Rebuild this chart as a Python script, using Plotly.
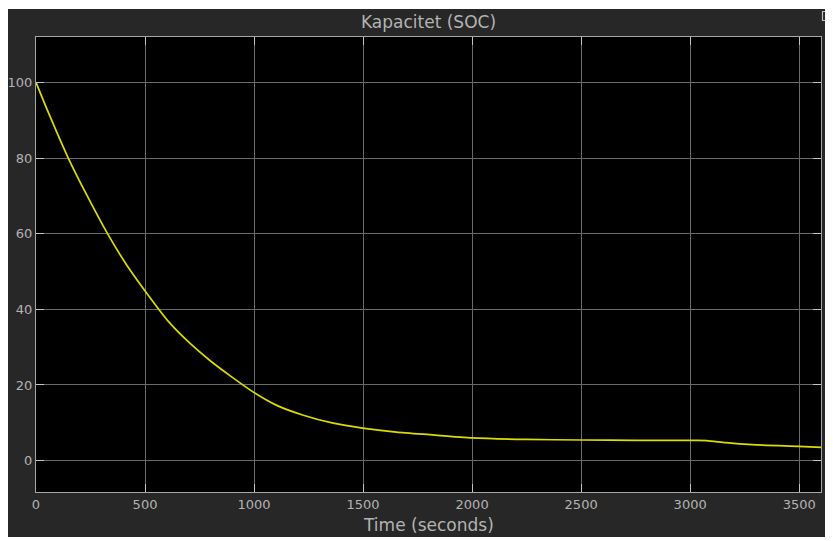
import plotly.graph_objects as go

# Data
time_s = [0, 57, 148, 232, 328, 415, 519, 610, 708, 799, 891, 997, 1104, 1226, 1363,
          1498, 1653, 1806, 2000, 2248, 2500, 2751, 3000, 3075, 3163, 3285, 3498, 3600]
soc = [100.0, 92.0, 80.0, 70.3, 60.0, 51.8, 43.4, 36.6, 30.9, 26.4, 22.4, 18.1, 14.6,
       12.0, 9.9, 8.6, 7.55, 6.85, 6.0, 5.6, 5.45, 5.37, 5.33, 5.3, 4.74, 4.2, 3.76, 3.5]

x_ticks = [0, 500, 1000, 1500, 2000, 2500, 3000, 3500]
y_ticks = [0, 20, 40, 60, 80, 100]

title_text = "Kapacitet (SOC)"
x_title = "Time (seconds)"

PANEL = "#272727"
GRID = "#6a6a6a"
AXIS = "#a6a6a6"
TXT = "#b3b3b3"
FONT = "DejaVu Sans, Liberation Sans, sans-serif"

fig = go.Figure()
fig.add_trace(go.Scatter(x=time_s, y=soc, mode="lines",
                         line=dict(color="#dcdc00", width=1.7, shape="spline", smoothing=0.6),
                         hoverinfo="skip", showlegend=False))

axis_common = dict(showgrid=True, gridcolor=GRID, gridwidth=1,
                   showline=True, linecolor=AXIS, linewidth=1, mirror="ticks",
                   ticks="inside", ticklen=8, tickcolor="#c4c4c4", tickwidth=1,
                   tickfont=dict(family=FONT, size=13, color=TXT),
                   zeroline=False, fixedrange=True, automargin=False)

fig.update_xaxes(range=[0, 3600], tickvals=x_ticks,
                 ticktext=[str(v) for v in x_ticks], **axis_common)
fig.update_yaxes(range=[-8.3, 112.0], tickvals=y_ticks,
                 ticktext=[str(v) for v in y_ticks], **axis_common)

# page body has an 8px margin; work in page pixel coordinates
OFF = 8
W, H = 825, 529
L, T = 36 - OFF, 37 - OFF
R = W - (821 - OFF)
B = H - (492 - OFF)
pw, ph = W - L - R, H - T - B

def px(xp):
    return (xp - OFF - L) / pw

def py(yp):
    return (H - B - (yp - OFF)) / ph

shapes = [
    # thin white strip at the very top
    dict(type="rect", xref="paper", yref="paper", x0=px(-20), x1=px(860),
         y0=py(9), y1=py(-20), fillcolor="white", line=dict(width=0), layer="above"),
    # small undock icon top right
    dict(type="rect", xref="paper", yref="paper", x0=px(822.5), x1=px(831.5),
         y0=py(20.5), y1=py(11.5), line=dict(color="#bdbdbd", width=1.2),
         fillcolor=PANEL, layer="above"),
    dict(type="line", xref="paper", yref="paper", x0=px(826), x1=px(830),
         y0=py(17), y1=py(13), line=dict(color="#bdbdbd", width=1), layer="above"),
]

fig.update_layout(
    width=W, height=H, autosize=False,
    margin=dict(l=L, r=R, t=T, b=B, pad=0),
    paper_bgcolor=PANEL, plot_bgcolor="#000000",
    shapes=shapes,
    title=dict(text=title_text, x=0.5, xref="paper", y=1 - (22 - OFF) / H, yref="container",
               xanchor="center", yanchor="middle",
               font=dict(family=FONT, size=17, color=TXT)),
    annotations=[dict(text=x_title, xref="paper", yref="paper", x=0.5, y=py(525),
                      xanchor="center", yanchor="middle", showarrow=False,
                      font=dict(family=FONT, size=17, color=TXT))],
)

fig.write_html("out.html")
